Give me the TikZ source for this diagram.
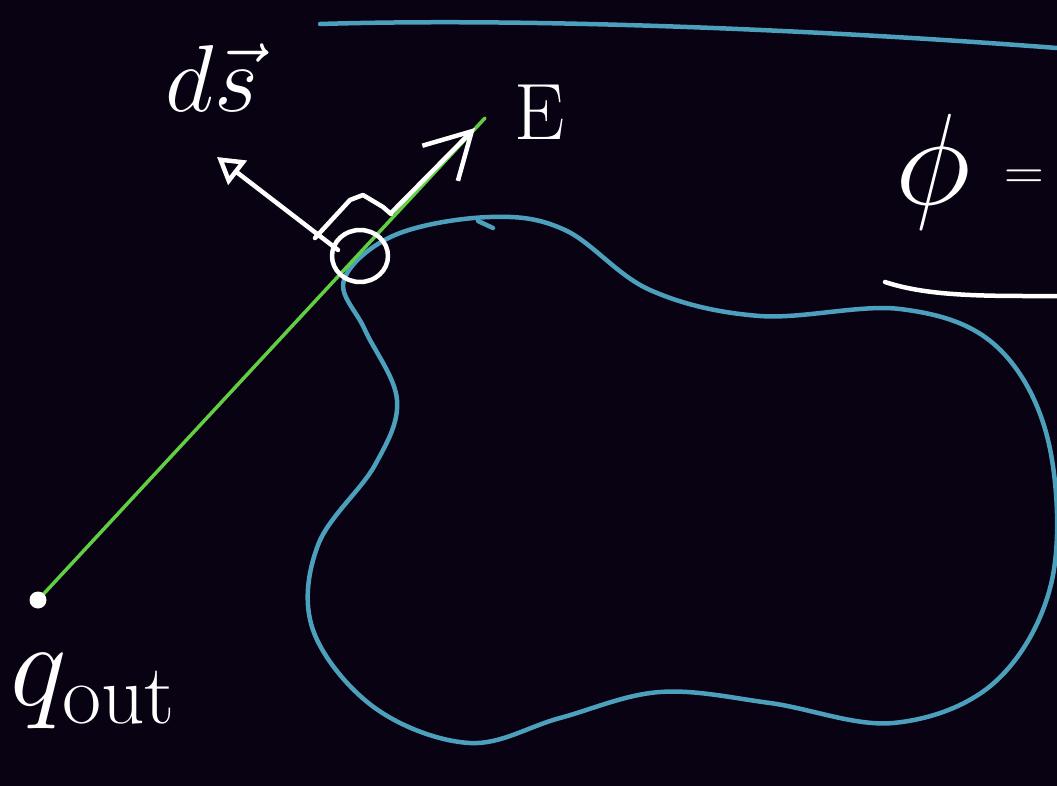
\RequirePackage{fix-cm}
\documentclass[tikz,border=0pt]{standalone}
\usetikzlibrary{arrows.meta}
\definecolor{board}{RGB}{8,2,18}
\definecolor{loopteal}{RGB}{76,160,188}
\definecolor{rayg}{RGB}{98,206,66}
\begin{document}
\begin{tikzpicture}[x=1pt, y=-1pt, line cap=round, line join=round,
  chalk/.style={draw=white, line width=4.5pt},
  surf/.style={draw=loopteal, line width=4.5pt},
  lbl/.style={text=white, inner sep=0pt, font=\fontsize{80}{80}\selectfont}]
  \fill[board] (0,0) rectangle (1057,786);
  \useasboundingbox (0,0) rectangle (1057,786);
  \draw[surf] (320,24) .. controls (550,17) and (850,32) .. (1057,48);
  \draw[surf] plot[smooth cycle, tension=0.6] coordinates {(344,280) (395,235) (490,217) (565,230) (650,290) (760,316) (900,309) (995,345) (1048,440) (1052,580) (995,682) (893,723) (770,703) (660,692) (560,718) (470,743) (375,708) (313,630) (318,545) (375,465) (397,400) (365,330)};
  \draw[surf] (493,228) -- (478,221);
  \coordinate (qout) at (38,600);
  \coordinate (etip) at (485,118);
  \coordinate (patch) at (360,256);
  \draw[draw=rayg, line width=3.5pt] (qout) -- (etip);
  \fill[white] (qout) circle (8.5);
  \draw[chalk] (patch) ellipse[x radius=28, y radius=26];
  \draw[chalk] (315,238) -- (350,200) -- (363,195) -- (383,207) -- (391,214);
  \draw[chalk, -{Triangle[open, length=26pt, width=30pt]}] (338,250) -- (217,157);
  \draw[chalk, -{Straight Barb[length=45pt, width=50pt]}] (391,213) -- (475,128);
  \draw[chalk] (885,282) .. controls (930,297) and (990,296) .. (1057,296);
  \node[lbl, anchor=base, font=\fontsize{95}{95}\selectfont] (dslbl) at (212,112) {$d\vec{s}$};
  \node[lbl, anchor=base] (elbl) at (540,140) {E};
  \node[lbl, anchor=base west, font=\fontsize{130}{130}\selectfont] (flux) at (895,205) {$\phi$};
  \node[lbl, font=\fontsize{55}{55}\selectfont] (eqsign) at (1024,180) {$=$};
  \node[lbl, anchor=base west, font=\fontsize{120}{120}\selectfont] (qlbl) at (10,705) {$q_{\hbox{\fontsize{85}{85}\selectfont out}}$};
\end{tikzpicture}
\end{document}
